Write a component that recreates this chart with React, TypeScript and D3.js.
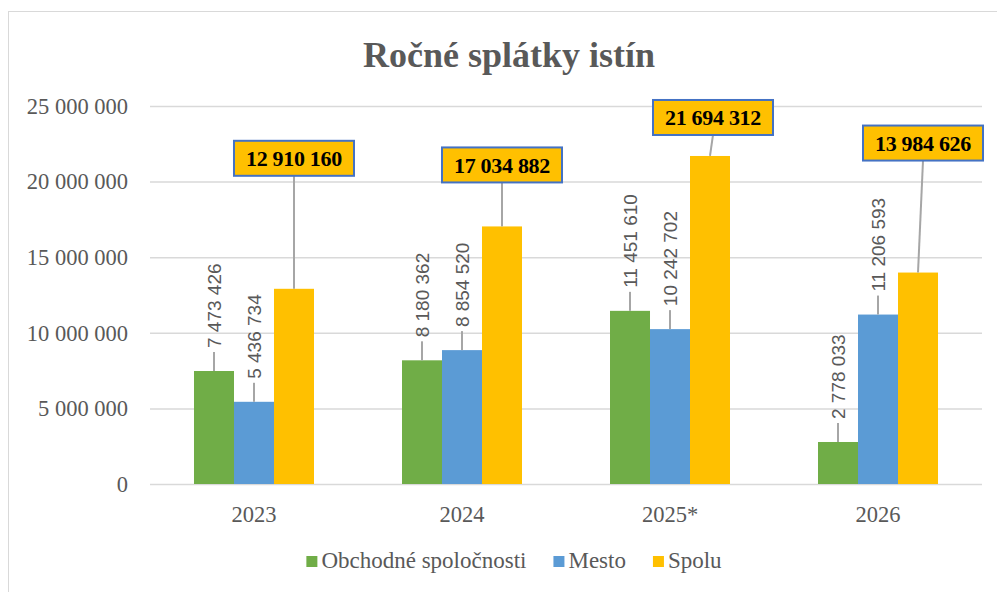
import React, { useRef, useEffect } from 'react';
import * as d3 from 'd3';

// chart data
const years = ['2023', '2024', '2025*', '2026'];
const seriesNames = ['Obchodné spoločnosti', 'Mesto', 'Spolu'];
const companies = [7473426, 8180362, 11451610, 2778033];
const city = [5436734, 8854520, 10242702, 11206593];
const total = [12910160, 17034882, 21694312, 13984626];
const yTicks = [0, 5000000, 10000000, 15000000, 20000000, 25000000];

// manual placement of the "Spolu" callouts (px above bar top, px shift right)
const calloutLift = [113, 44, 21, 112];
const calloutShift = [0, 0, 3, 5];

const colors = ['#70AD47', '#5B9BD5', '#FFC000'];
const textGray = '#595959';
const serif = '"Liberation Serif", "Times New Roman", serif';
const sans = '"Liberation Sans", Arial, sans-serif';

const fmt = (v: number) => d3.format(',')(v).replace(/,/g, ' ');

const App = () => {
  const chartRef = useRef<SVGSVGElement>(null);

  useEffect(() => {
    if (!chartRef.current) return;
    const svg = d3.select(chartRef.current);
    svg.selectAll('*').remove();

    const width = 997;
    const height = 592;
    const margin = { top: 106, right: 15, bottom: 108, left: 150 };

    // outer chart border
    svg.append('rect')
      .attr('x', 8.5).attr('y', 11.5)
      .attr('width', 1000).attr('height', 600)
      .attr('fill', '#fff')
      .attr('stroke', '#d9d9d9');

    const x0 = d3.scaleBand()
      .domain(years)
      .range([margin.left, width - margin.right])
      .paddingInner(0.4231)
      .paddingOuter(0.2115);

    const x1 = d3.scaleBand()
      .domain(seriesNames)
      .range([0, x0.bandwidth()]);

    const y = d3.scaleLinear()
      .domain([0, 25000000])
      .range([height - margin.bottom, margin.top]);

    // gridlines
    svg.append('g')
      .selectAll('line')
      .data(yTicks)
      .join('line')
      .attr('x1', margin.left)
      .attr('x2', width - margin.right)
      .attr('y1', d => y(d) + 0.5)
      .attr('y2', d => y(d) + 0.5)
      .attr('stroke', '#d9d9d9')
      .attr('stroke-width', 1.5);

    // y labels
    svg.append('g')
      .selectAll('text')
      .data(yTicks)
      .join('text')
      .attr('x', 128)
      .attr('y', d => y(d))
      .attr('dy', '0.35em')
      .attr('text-anchor', 'end')
      .attr('fill', textGray)
      .style('font-family', serif)
      .style('font-size', '22.5px')
      .text(d => fmt(d));

    // x labels
    svg.append('g')
      .selectAll('text')
      .data(years)
      .join('text')
      .attr('x', d => (x0(d) as number) + x0.bandwidth() / 2)
      .attr('y', 522)
      .attr('text-anchor', 'middle')
      .attr('fill', textGray)
      .style('font-family', serif)
      .style('font-size', '22.5px')
      .text(d => d);

    const values = [companies, city, total];

    // bars
    values.forEach((vals, s) => {
      svg.append('g')
        .selectAll('rect')
        .data(vals)
        .join('rect')
        .attr('x', (d, i) => (x0(years[i]) as number) + (x1(seriesNames[s]) as number))
        .attr('y', d => y(d))
        .attr('width', x1.bandwidth())
        .attr('height', d => y(0) - y(d))
        .attr('fill', colors[s]);
    });

    // rotated labels with leader lines for first two series
    [companies, city].forEach((vals, s) => {
      vals.forEach((v, i) => {
        const cx = (x0(years[i]) as number) + (x1(seriesNames[s]) as number) + x1.bandwidth() / 2;
        const top = y(v);
        svg.append('line')
          .attr('x1', cx).attr('x2', cx)
          .attr('y1', top).attr('y2', top - 19)
          .attr('stroke', '#a6a6a6')
          .attr('stroke-width', 2);
        svg.append('text')
          .attr('transform', `translate(${cx},${top - 23}) rotate(-90)`)
          .attr('dy', '0.35em')
          .attr('text-anchor', 'start')
          .attr('fill', textGray)
          .style('font-family', sans)
          .style('font-size', '19px')
          .text(fmt(v));
      });
    });

    // callouts for totals
    const boxW = 120;
    const boxH = 35;
    total.forEach((v, i) => {
      const cx = (x0(years[i]) as number) + (x1('Spolu') as number) + x1.bandwidth() / 2;
      const top = y(v);
      const bx = cx + calloutShift[i];
      const bottom = top - calloutLift[i];
      svg.append('line')
        .attr('x1', cx).attr('y1', top)
        .attr('x2', bx).attr('y2', bottom)
        .attr('stroke', '#a6a6a6')
        .attr('stroke-width', 2);
      svg.append('rect')
        .attr('x', bx - boxW / 2)
        .attr('y', bottom - boxH)
        .attr('width', boxW)
        .attr('height', boxH)
        .attr('fill', '#FFC000')
        .attr('stroke', '#4472C4')
        .attr('stroke-width', 2);
      svg.append('text')
        .attr('x', bx)
        .attr('y', bottom - boxH / 2)
        .attr('dy', '0.35em')
        .attr('text-anchor', 'middle')
        .attr('fill', '#000')
        .style('font-family', serif)
        .style('font-weight', 'bold')
        .style('font-size', '22px')
        .style('letter-spacing', '-0.3px')
        .text(fmt(v));
    });

    // title
    svg.append('text')
      .attr('x', 509)
      .attr('y', 67)
      .attr('text-anchor', 'middle')
      .attr('fill', textGray)
      .style('font-family', serif)
      .style('font-weight', 'bold')
      .style('font-size', '36px')
      .text('Ročné splátky istín');

    // legend
    const legend = svg.append('g');
    let lx = 0;
    seriesNames.forEach((name, i) => {
      const item = legend.append('g').attr('transform', `translate(${lx},0)`);
      item.append('rect')
        .attr('x', 0).attr('y', -12)
        .attr('width', 11).attr('height', 11)
        .attr('fill', colors[i]);
      const t = item.append('text')
        .attr('x', 15)
        .attr('y', 0)
        .attr('fill', textGray)
        .style('font-family', serif)
        .style('font-size', '23px')
        .text(name);
      const w = (t.node() as SVGTextElement).getComputedTextLength();
      lx += 15 + w + 27;
    });
    const legendW = lx - 27;
    legend.attr('transform', `translate(${514 - legendW / 2},568)`);
  }, []);

  return (
    <svg
      ref={chartRef}
      width="997"
      height="592"
      style={{ position: 'absolute', left: 0, top: 0 }}
    ></svg>
  );
};

export default App;
